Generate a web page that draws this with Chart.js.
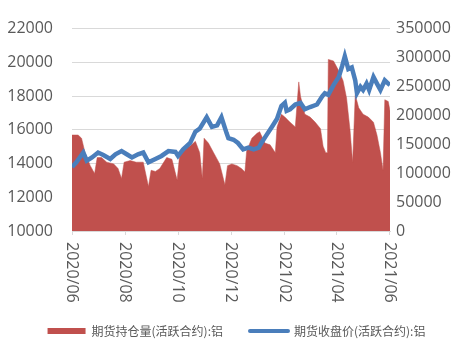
<!DOCTYPE html>
<html>
<head>
<meta charset="utf-8">
<script src="https://cdn.jsdelivr.net/npm/chart.js@4/dist/chart.umd.min.js"></script>
<style>
  html, body { margin: 0; padding: 0; background: #fff; }
  #wrap { width: 473px; height: 347px; }
</style>
</head>
<body>
<div id="wrap"><canvas id="chart"></canvas></div>
<script>
// 期货收盘价 (左轴)
const priceDates = ['2020-06-01','2020-06-06','2020-06-14','2020-06-18','2020-06-24','2020-07-01','2020-07-07','2020-07-15','2020-07-21','2020-07-28',
  '2020-08-03','2020-08-09','2020-08-16','2020-08-22','2020-08-28','2020-09-05','2020-09-12','2020-09-20','2020-09-28','2020-10-01',
  '2020-10-07','2020-10-15','2020-10-21','2020-10-26','2020-11-03','2020-11-09','2020-11-15','2020-11-20','2020-11-26','2020-11-28',
  '2020-12-04','2020-12-09','2020-12-15','2020-12-21','2020-12-27','2021-01-02','2021-01-05','2021-01-11','2021-01-17','2021-01-23',
  '2021-01-28','2021-02-01','2021-02-03','2021-02-07','2021-02-13','2021-02-19','2021-02-24','2021-03-02','2021-03-10','2021-03-16',
  '2021-03-19','2021-03-23','2021-03-29','2021-04-04','2021-04-08','2021-04-11','2021-04-15','2021-04-19','2021-04-23','2021-04-25',
  '2021-04-29','2021-05-02','2021-05-06','2021-05-09','2021-05-14','2021-05-18','2021-05-22','2021-05-27','2021-05-31','2021-06-02']
const priceValues = [13790, 14070, 14650, 14170, 14360, 14650, 14500, 14270, 14550, 14740,
  14550, 14360, 14550, 14650, 14070, 14270, 14450, 14740, 14690, 14450,
  14840, 15220, 15890, 16070, 16740, 16170, 16260, 16740, 15790, 15500,
  15410, 15220, 14840, 14940, 14840, 14940, 15220, 15700, 16170, 16650,
  17410, 17600, 17130, 17220, 17500, 17600, 17220, 17350, 17500, 17980,
  18170, 18070, 18650, 19130, 19790, 20360, 19600, 19700, 18930, 18170,
  18550, 18360, 18740, 18360, 19130, 18740, 18360, 18930, 18740, 18650]

// 期货持仓量 (右轴)
const oiDates = ['2020-06-01','2020-06-08','2020-06-12','2020-06-16','2020-06-22','2020-06-27','2020-06-30','2020-07-05','2020-07-11','2020-07-19',
  '2020-07-24','2020-07-28','2020-07-31','2020-08-07','2020-08-14','2020-08-22','2020-08-28','2020-08-31','2020-09-05','2020-09-10',
  '2020-09-18','2020-09-24','2020-09-30','2020-10-03','2020-10-09','2020-10-15','2020-10-21','2020-10-26','2020-10-29','2020-10-31',
  '2020-11-05','2020-11-11','2020-11-18','2020-11-24','2020-11-27','2020-12-02','2020-12-08','2020-12-13','2020-12-17','2020-12-19',
  '2020-12-25','2020-12-31','2021-01-03','2021-01-09','2021-01-15','2021-01-21','2021-01-23','2021-01-28','2021-02-01','2021-02-07',
  '2021-02-13','2021-02-15','2021-02-17','2021-02-19','2021-02-24','2021-03-02','2021-03-08','2021-03-14','2021-03-17','2021-03-20',
  '2021-03-22','2021-03-23','2021-03-29','2021-04-04','2021-04-09','2021-04-13','2021-04-17','2021-04-20','2021-04-23','2021-04-27',
  '2021-05-02','2021-05-08','2021-05-14','2021-05-18','2021-05-22','2021-05-25','2021-05-27','2021-05-31','2021-06-02']
const oiValues = [166000, 166000, 160500, 135500, 113000, 99500, 127000, 127000, 119000, 116000,
  108000, 91000, 119000, 121700, 119000, 119000, 77000, 105000, 103000, 108000,
  127000, 124000, 88000, 133000, 144000, 147000, 155000, 135500, 91000, 160500,
  152000, 135500, 116000, 80000, 113000, 116000, 113000, 108000, 102000, 138000,
  160500, 169000, 171700, 152000, 149000, 135500, 180000, 202000, 197000, 188000,
  180000, 219000, 257800, 233000, 202000, 197000, 188000, 177000, 146700, 135500,
  135500, 296700, 294000, 277000, 260000, 230000, 174500, 119000, 235500, 213000,
  202000, 197000, 188000, 166000, 135500, 105000, 227000, 224000, 208000]

const tickDates = ['2020-06-01','2020-08-01','2020-10-01','2020-12-01','2021-02-01','2021-04-01','2021-06-01']
const tickLabels = ['2020/06','2020/08','2020/10','2020/12','2021/02','2021/04','2021/06']

const legendNames = ['期货持仓量(活跃合约):铝', '期货收盘价(活跃合约):铝']

const RED = '#c0504d'
const BLUE = '#4a7ebb'
const GREY = '#595959'
const GRID = '#d9d9d9'

// 2020-06-01 起的天数
function dayOf(s) {
    const [y, m, d] = s.split('-').map(Number)
    return (Date.UTC(y, m - 1, d) - Date.UTC(2020, 5, 1)) / 86400000
}

const priceData = priceDates.map((d, i) => ({ x: dayOf(d), y: priceValues[i] }))
const oiData = oiDates.map((d, i) => ({ x: dayOf(d), y: oiValues[i] }))
const tickDays = tickDates.map(dayOf)

// x축 라벨: 위에서 아래로 읽히도록 90도 회전
const xLabelPlugin = {
    id: 'xLabels',
    afterDraw(chart) {
        const xs = chart.scales.x
        const ctx = chart.ctx
        ctx.save()
        ctx.font = '16px "Open Sans"'
        ctx.fillStyle = GREY
        ctx.textAlign = 'left'
        ctx.textBaseline = 'middle'
        tickDays.forEach((day, i) => {
            const x = xs.getPixelForValue(day)
            ctx.save()
            ctx.translate(x, xs.top + 11)
            ctx.rotate(Math.PI / 2)
            ctx.fillText(tickLabels[i], 0, 0)
            ctx.restore()
        })
        ctx.restore()
    }
}

const tickFont = { family: 'Open Sans', size: 16 }

const config = {
    type: 'line',
    data: {
        datasets: [
            {
                label: legendNames[1],
                data: priceData,
                yAxisID: 'y',
                borderColor: BLUE,
                backgroundColor: BLUE,
                borderWidth: 4.5,
                pointRadius: 0,
                tension: 0,
                fill: false,
                order: 0
            },
            {
                label: legendNames[0],
                data: oiData,
                yAxisID: 'y1',
                borderColor: RED,
                backgroundColor: RED,
                borderWidth: 0.5,
                pointRadius: 0,
                tension: 0,
                fill: 'origin',
                order: 1
            }
        ]
    },
    options: {
        responsive: false,
        animation: false,
        layout: { padding: { top: 18, left: 0, right: 0, bottom: 0 } },
        scales: {
            x: {
                type: 'linear',
                min: 0,
                max: 366,
                afterBuildTicks: scale => { scale.ticks = tickDays.map(v => ({ value: v })) },
                afterFit: scale => { scale.height = 67 },
                ticks: { display: false },
                grid: { drawOnChartArea: false, drawTicks: true, tickLength: 4, color: GRID },
                border: { color: GRID }
            },
            y: {
                position: 'left',
                min: 10000,
                max: 22000,
                afterFit: scale => { scale.width = 72 },
                ticks: { stepSize: 2000, padding: 19, color: GREY, font: tickFont, callback: v => String(v) },
                grid: { color: GRID, drawTicks: false },
                border: { display: false }
            },
            y1: {
                position: 'right',
                min: 0,
                max: 350000,
                afterFit: scale => { scale.width = 83 },
                ticks: { stepSize: 50000, padding: 6, color: GREY, font: tickFont, callback: v => String(v) },
                grid: { drawOnChartArea: false, drawTicks: false },
                border: { display: false }
            }
        },
        plugins: {
            tooltip: { enabled: false },
            legend: {
                position: 'bottom',
                maxHeight: 52,
                labels: {
                    usePointStyle: true,
                    pointStyleWidth: 38,
                    boxHeight: 6,
                    padding: 27,
                    color: GREY,
                    font: { family: 'Noto Sans CJK SC', size: 12 },
                    generateLabels: () => [
                        { text: legendNames[0], fillStyle: RED, strokeStyle: RED, lineWidth: 0, pointStyle: 'rect', fontColor: GREY, datasetIndex: 1 },
                        { text: legendNames[1], fillStyle: BLUE, strokeStyle: BLUE, lineWidth: 4, lineCap: 'round', pointStyle: 'line', fontColor: GREY, datasetIndex: 0 }
                    ]
                }
            }
        }
    },
    plugins: [xLabelPlugin]
}

const canvas = document.getElementById('chart')
canvas.width = 473
canvas.height = 347
new Chart(canvas, config)
</script>
</body>
</html>
